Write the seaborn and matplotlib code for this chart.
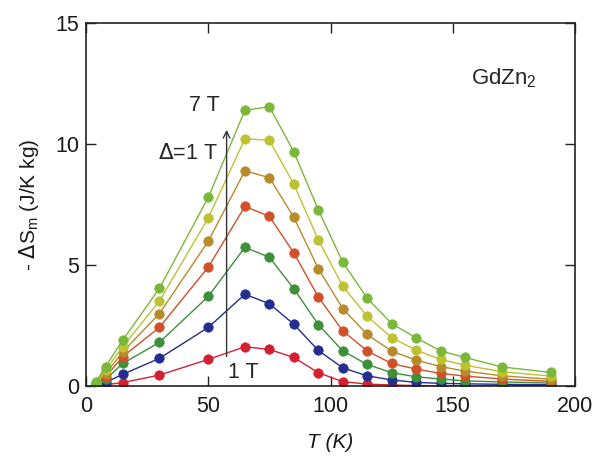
import numpy as np
import pandas as pd
import matplotlib
matplotlib.use("Agg")
import matplotlib.pyplot as plt
import seaborn as sns

# ---- data ----
T = [4, 8, 15, 30, 50, 65, 75, 85, 95, 105, 115, 125, 135, 145, 155, 170, 190]
fields = ["1 T", "2 T", "3 T", "4 T", "5 T", "6 T", "7 T"]
s1 = [0.02, 0.05, 0.14, 0.45, 1.10, 1.62, 1.51, 1.18, 0.55, 0.18, 0.08, 0.04, 0.02, 0.01, 0.01, 0.01, 0.01]
s2 = [0.04, 0.15, 0.48, 1.14, 2.42, 3.79, 3.40, 2.55, 1.47, 0.75, 0.42, 0.25, 0.15, 0.11, 0.09, 0.07, 0.05]
s3 = [0.06, 0.27, 0.93, 1.80, 3.70, 5.73, 5.32, 4.02, 2.54, 1.45, 0.89, 0.55, 0.38, 0.29, 0.21, 0.17, 0.12]
s4 = [0.08, 0.38, 1.21, 2.42, 4.91, 7.42, 7.01, 5.50, 3.68, 2.28, 1.45, 0.93, 0.70, 0.52, 0.41, 0.29, 0.19]
s5 = [0.10, 0.50, 1.41, 2.99, 5.98, 8.89, 8.61, 6.97, 4.85, 3.20, 2.13, 1.44, 1.07, 0.80, 0.62, 0.42, 0.28]
s6 = [0.12, 0.65, 1.62, 3.51, 6.94, 10.22, 10.15, 8.34, 6.04, 4.13, 2.88, 2.00, 1.48, 1.10, 0.86, 0.59, 0.41]
s7 = [0.16, 0.80, 1.89, 4.03, 7.79, 11.39, 11.54, 9.68, 7.28, 5.12, 3.63, 2.58, 1.99, 1.45, 1.18, 0.79, 0.56]
series = [s1, s2, s3, s4, s5, s6, s7]
colors = ["#d4202e", "#232e8e", "#3d8f3a", "#d0502a", "#b88a2a", "#bcc232", "#7ab83a"]
xticks = [0, 50, 100, 150, 200]
yticks = [0, 5, 10, 15]

df = pd.DataFrame({
    "T": np.tile(T, len(fields)),
    "dS": np.concatenate(series),
    "field": np.repeat(fields, len(T)),
})

sns.set_style("ticks")
plt.rcParams["font.family"] = ["Liberation Sans", "DejaVu Sans"]

fig = plt.figure(figsize=(6.08, 4.57), dpi=100)
# axes: x 86..575 px, y 23..386 px
ax = fig.add_axes([86 / 608, (457 - 386) / 457, (575 - 86) / 608, (386 - 23) / 457])

for f, c in zip(fields, colors):
    sns.lineplot(data=df[df["field"] == f], x="T", y="dS", color=c, marker="o",
                 markersize=6.8, markeredgecolor=c, markeredgewidth=0.5,
                 linewidth=1.0, ax=ax, legend=False)

ax.set_xlim(0, 200)
ax.set_ylim(0, 15)
ax.set_xticks(xticks)
ax.set_yticks(yticks)
ax.tick_params(direction="in", length=7, width=1.0, top=True, right=True,
               labelsize=15.5, color="#222222", labelcolor="#1a1a1a")
ax.tick_params(axis="x", pad=7)
ax.tick_params(axis="y", pad=5)
for sp in ax.spines.values():
    sp.set_linewidth(1.2)
    sp.set_color("#222222")
    sp.set_visible(True)
ax.tick_params(labeltop=False, labelright=False)

ax.set_xlabel("T (K)", fontsize=15, fontstyle="italic", labelpad=12, color="#1a1a1a")
ax.set_ylabel(r"- $\Delta$S$_\mathregular{m}$ (J/K kg)", fontsize=15, labelpad=10, color="#1a1a1a")

# annotations
ax.annotate("", xy=(57.5, 10.7), xytext=(57.5, 1.1),
            arrowprops=dict(arrowstyle="->", color="#333333", lw=1.0,
                            mutation_scale=12))
ax.text(48.5, 11.6, "7 T", fontsize=15.5, ha="center", va="center")
ax.text(41.5, 9.6, r"$\Delta$=1 T", fontsize=15.5, ha="center", va="center")
ax.text(64.5, 0.55, "1 T", fontsize=15.5, ha="center", va="center")
ax.text(171, 12.7, r"GdZn$_\mathregular{2}$", fontsize=16, ha="center", va="center")

fig.savefig("out.png", dpi=100)
